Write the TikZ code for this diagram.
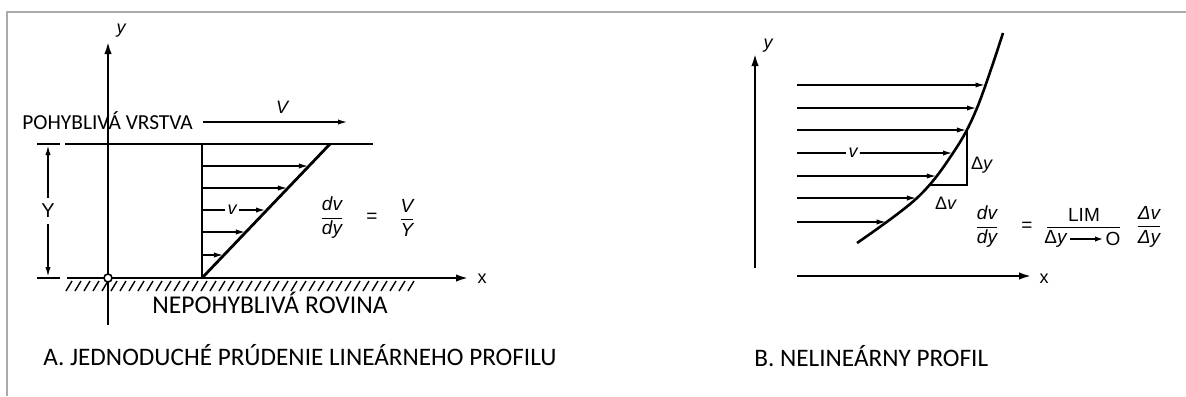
\documentclass[tikz,border=0pt]{standalone}
\usepackage{fontspec}
\usepackage{tikz}
\usetikzlibrary{arrows.meta,positioning,calc,intersections}
\setmainfont{Liberation Sans}
\newfontfamily\capfont{Carlito}
\definecolor{framegray}{RGB}{170, 170, 170}

\tikzset{
    wall/.style={line width=1.3pt},
    flow/.style={line width=0.9pt, -{Latex[length=5pt,width=2.6pt]}},
    axis/.style={line width=1.4pt, -{Latex[length=7pt,width=3.6pt]}},
    lbl/.style={font=\fontsize{9}{10}\selectfont\itshape, inner sep=1pt},
    eqn/.style={font=\fontsize{9.5}{11}\selectfont, inner sep=1pt},
    captxt/.style={font=\capfont\fontsize{12.6}{14}\selectfont, anchor=base west, inner sep=0pt}
}

\begin{document}
\begin{tikzpicture}[x=0.5pt, y=-0.5pt]
    \useasboundingbox (0,0) rectangle (1186,396);
    \draw[framegray, line width=1pt] (7,396) -- (7,12) -- (1186,12);

    % A: linear profile
    \coordinate (O) at (108,278);
    \coordinate (foot) at (202,278);
    \coordinate (tip) at (330,144);
    \foreach \hx in {72,81,...,416}
        \draw[line width=0.7pt] (\hx,281) -- (\hx-6,291);
    \draw[wall] (65,144) -- (373,144);
    \draw[axis] (67,278) -- (470,278);
    \node[font=\fontsize{9}{10}\selectfont, inner sep=1pt] (xA) at (482,279) {x};
    \draw[axis] (108,325) -- (108,40);
    \node[lbl] (yA) at (121,31) {y};
    \draw[line width=0.9pt] (foot) -- (202,144);
    \draw[line width=1.4pt] (foot) -- (tip);
    \foreach \ay in {166,188,232,255}
        \draw[flow] (202,\ay) -- ({202+(278-\ay)*128/134},\ay);
    \node[lbl] (vA) at (232,210) {v};
    \draw[line width=0.9pt] (202,210) -- (vA.west);
    \draw[flow] (vA.east) -- (266,210);
    \node[captxt, font=\capfont\fontsize{10.7}{12}\selectfont] (moving) at (22,129) {POHYBLIVÁ VRSTVA};
    \draw[flow] (203,122) -- (348,122);
    \node[lbl] (VA) at (282,107) {V};
    \draw[line width=0.8pt] (37,144) -- (60,144);
    \draw[line width=0.8pt] (37,278) -- (60,278);
    \draw[line width=0.8pt, {Latex[length=5pt,width=2.6pt]}-{Latex[length=5pt,width=2.6pt]}] (48,145) -- (48,277)
        node[midway, fill=white, font=\fontsize{10}{11}\selectfont, inner sep=3pt] (YA) {Y};
    \draw[fill=white, line width=0.8pt] (O) circle[radius=2pt];
    \node[captxt, font=\capfont\fontsize{12.8}{14}\selectfont] (fixed) at (152,313) {NEPOHYBLIVÁ ROVINA};
    \node[eqn] (dvdyA) at (332,218) {$\displaystyle\frac{\textit{dv}}{\textit{dy}}$};
    \node[eqn] (eqsA) at (372,218) {=};
    \node[eqn] (VYA) at (407,218) {$\displaystyle\frac{\textit{V}}{\textit{Y}}$};
    \node[captxt] (capA) at (43,365) {A. JEDNODUCHÉ PRÚDENIE LINEÁRNEHO PROFILU};

    % B: nonlinear profile
    \draw[axis] (755,268) -- (755,52);
    \node[lbl] (yB) at (768,46) {y};
    \draw[axis] (797,276) -- (1033,276);
    \node[font=\fontsize{9}{10}\selectfont, inner sep=1pt] (xB) at (1044,279) {x};
    \draw[wall, name path=curve] plot[smooth, tension=0.6] coordinates {(857,243) (917,198) (953,153) (977,108) (1003,33)};
    \foreach \ay in {85,108,130,176,198,222} {
        \path[name path=ray] (797,\ay) -- (1100,\ay);
        \draw[flow, name intersections={of=curve and ray, by=hit}] (797,\ay) -- (hit);
    }
    \path[name path=ray] (797,153) -- (1100,153);
    \path[name intersections={of=curve and ray, by=hitv}];
    \node[lbl] (vB) at (853,153) {v};
    \draw[line width=0.9pt] (797,153) -- (vB.west);
    \draw[flow] (vB.east) -- (hitv);
    \path[name path=top] (797,130) -- (1100,130);
    \path[name intersections={of=curve and top, by=tritop}];
    \path[name path=low] (797,185) -- (1100,185);
    \path[name intersections={of=curve and low, by=trilow}];
    \coordinate (corner) at (tritop |- trilow);
    \draw[line width=1pt] (tritop) -- (corner) -- (trilow);
    \node[font=\fontsize{9}{10}\selectfont, inner sep=1pt] (dyB) at (982,165) {Δ\textit{y}};
    \node[font=\fontsize{9}{10}\selectfont, inner sep=1pt] (dvB) at (946,203) {Δ\textit{v}};
    \node[eqn] (dvdyB) at (987,227) {$\displaystyle\frac{\textit{dv}}{\textit{dy}}$};
    \node[eqn] (eqsB) at (1027,227) {=};
    \node[eqn] (lim) at (1084,215) {LIM};
    \draw[line width=0.5pt] (1047,227) -- (1120,227);
    \node[eqn] (limdy) at (1056,239) {Δ\textit{y}};
    \node[eqn] (zero) at (1113,239) {O};
    \draw[line width=0.8pt, -{Latex[length=4pt,width=2.6pt]}] (limdy) -- (zero);
    \node[eqn] (dvdyD) at (1149,227) {$\displaystyle\frac{\textit{Δv}}{\textit{Δy}}$};
    \node[captxt] (capB) at (754,366) {B. NELINEÁRNY PROFIL};
\end{tikzpicture}
\end{document}
